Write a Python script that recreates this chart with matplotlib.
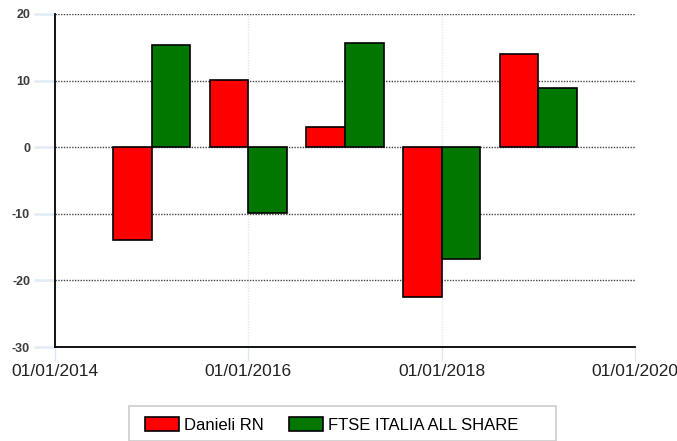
import matplotlib
matplotlib.use("Agg")
import matplotlib.pyplot as plt
from matplotlib.patches import Rectangle

plt.rcParams['font.family'] = ['Liberation Sans', 'DejaVu Sans']
plt.rcParams['axes.unicode_minus'] = False

# data
years = [2015, 2016, 2017, 2018, 2019]
danieli = [-14.0, 10.1, 3.0, -22.5, 14.0]
ftse = [15.3, -9.9, 15.6, -16.8, 8.9]
tick_years = [2014, 2016, 2018, 2020]
tick_labels = ['01/01/2014', '01/01/2016', '01/01/2018', '01/01/2020']
series_names = ['Danieli RN', 'FTSE ITALIA ALL SHARE']

fig = plt.figure(figsize=(6.77, 4.41), dpi=100)
ax = fig.add_axes([55/677, 1 - 347/441, 580/677, 333/441])

w = 0.4
ax.bar([y - w/2 for y in years], danieli, width=w, color='#ff0000',
       edgecolor='black', linewidth=1.2, label=series_names[0], zorder=3)
ax.bar([y + w/2 for y in years], ftse, width=w, color='#007800',
       edgecolor='black', linewidth=1.2, label=series_names[1], zorder=3)

ax.set_xlim(2014, 2020)
ax.set_ylim(-30, 20)
ax.set_yticks([-30, -20, -10, 0, 10, 20])
ax.set_xticks(tick_years)
ax.set_xticklabels(tick_labels)

# grid
ax.yaxis.grid(True, linestyle=(0, (1, 1)), color='#444444', linewidth=1, zorder=1)
ax.xaxis.grid(True, linestyle=(0, (1, 1)), color='#dde8f6', linewidth=1, zorder=1)
ax.set_axisbelow(True)

for s in ['top', 'right']:
    ax.spines[s].set_visible(False)
for s in ['left', 'bottom']:
    ax.spines[s].set_color('black')
    ax.spines[s].set_linewidth(1.3)

ax.tick_params(axis='y', length=15, width=2, color='#e3edf8', pad=3,
               labelsize=9)
for t in ax.get_yticklabels():
    t.set_fontweight('bold')
    t.set_color('#3c3c3c')
ax.tick_params(axis='x', length=10, width=1, color='#dde8f6', pad=2,
               labelsize=12.5, labelcolor='#222222')

# legend box
fig.patches.append(Rectangle((129/677, 0), 427/677, (441 - 406)/441,
                             transform=fig.transFigure, facecolor='white',
                             edgecolor='#cccccc', linewidth=1.2))
handles, labels = ax.get_legend_handles_labels()
fig.legend(handles, labels, loc='center left',
           bbox_to_anchor=(137/677, 1 - 425/441), ncol=2, frameon=False,
           fontsize=12, handlelength=2.0, handleheight=0.9,
           handletextpad=0.35, columnspacing=1.5, borderpad=0)

fig.savefig('out.png', dpi=100)
